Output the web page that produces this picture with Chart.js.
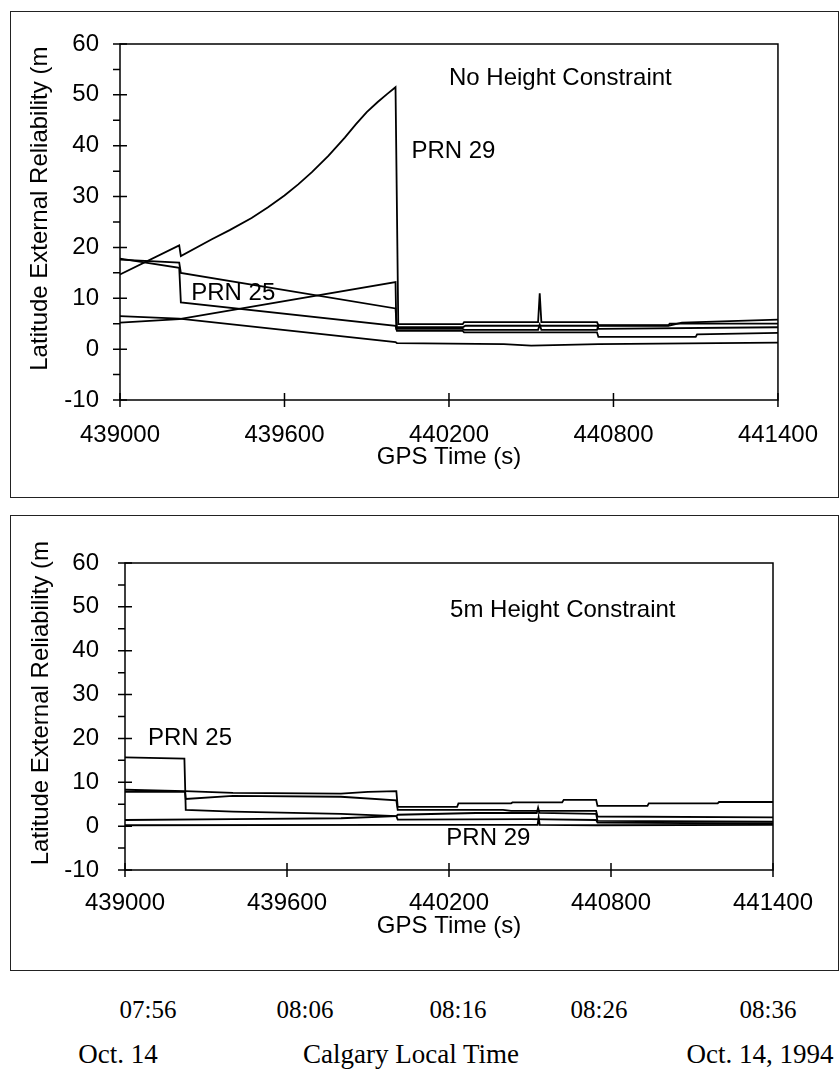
<!DOCTYPE html>
<html>
<head>
<meta charset="utf-8">
<script src="https://cdn.jsdelivr.net/npm/chart.js@4/dist/chart.umd.min.js"></script>
<style>
  body { margin: 0; background: #fff; width: 839px; height: 1078px; position: relative; overflow: hidden; }
  .box { position: absolute; border: 1px solid #222; box-sizing: border-box; }
  canvas { position: absolute; left: 0; }
  .serif { position: absolute; font-family: "Times New Roman", "Liberation Serif", serif; color: #000; white-space: nowrap; transform: translateX(-50%); }
</style>
</head>
<body>
<div class="box" style="left:10px; top:11px; width:829px; height:487px;"></div>
<div class="box" style="left:10px; top:515px; width:829px; height:456px;"></div>
<canvas id="topChart" width="839" height="497" style="top:0"></canvas>
<canvas id="bottomChart" width="839" height="455" style="top:515px"></canvas>

<div class="serif" style="left:148px; top:996px; font-size:25px;">07:56</div>
<div class="serif" style="left:305px; top:996px; font-size:25px;">08:06</div>
<div class="serif" style="left:458px; top:996px; font-size:25px;">08:16</div>
<div class="serif" style="left:599px; top:996px; font-size:25px;">08:26</div>
<div class="serif" style="left:768px; top:996px; font-size:25px;">08:36</div>
<div class="serif" style="left:118px; top:1039px; font-size:27px;">Oct. 14</div>
<div class="serif" style="left:411px; top:1039px; font-size:27px;">Calgary Local Time</div>
<div class="serif" style="left:760px; top:1039px; font-size:27px;">Oct. 14, 1994</div>

<script>
// axis ticks
const yMajor = [-10, 0, 10, 20, 30, 40, 50, 60];
const yMinor = [-5, 5, 15, 25, 35, 45, 55];
const xMajor = [439000, 439600, 440200, 440800, 441400];

// top panel: no height constraint  [GPS time (s), reliability (m)]
const topPrn29 = [[439000, 14.7], [439216, 20.4], [439222, 18.3], [439335, 21.6], [439400, 23.4], [439480, 25.8],
  [439540, 27.9], [439600, 30.2], [439650, 32.4], [439700, 34.8], [439760, 38.0], [439820, 41.6], [439860, 44.2],
  [439900, 46.6], [439940, 48.6], [439975, 50.2], [440005, 51.5], [440015, 4.9], [440250, 4.9],
  [440255, 5.3], [440525, 5.3], [440531, 11.0], [440537, 5.3], [440740, 5.3], [440745, 4.7], [441000, 4.7],
  [441005, 5.0], [441400, 5.0]];
const topUpper = [[439000, 17.6], [439216, 17.0], [439222, 15.0], [440005, 8.0], [440010, 4.3], [440250, 4.3],
  [440260, 4.6], [440740, 4.6], [440745, 4.0], [441400, 4.3]];
const topPrn25 = [[439000, 17.8], [439216, 16.0], [439222, 9.2], [440005, 4.6], [440010, 3.6], [440250, 3.6],
  [440255, 3.3], [440740, 3.3], [440745, 2.4], [441100, 2.4], [441105, 2.9], [441400, 3.2]];
const topRising = [[439000, 5.2], [439216, 5.9], [440005, 13.2], [440008, 4.0], [440250, 4.0], [440255, 3.8],
  [440525, 3.8], [440531, 4.8], [440537, 3.8], [440740, 3.8], [440745, 4.6], [441000, 4.6], [441050, 5.2],
  [441400, 5.8]];
const topLow = [[439000, 6.5], [439216, 6.0], [440005, 1.4], [440010, 1.2], [440400, 1.0], [440500, 0.7],
  [440745, 1.0], [441400, 1.3]];

// bottom panel: 5m height constraint
const botPrn25 = [[439000, 15.7], [439220, 15.4], [439225, 3.7], [439400, 3.3], [439800, 2.8], [440005, 2.3],
  [440010, 1.5], [440500, 1.6], [440745, 1.4], [440750, 0.8], [441400, 0.6]];
const botUpper = [[439000, 8.3], [439222, 8.0], [439400, 7.6], [439800, 7.4], [439900, 7.8], [440005, 8.0],
  [440010, 4.4], [440230, 4.4], [440235, 5.2], [440430, 5.2], [440435, 5.4], [440619, 5.4], [440625, 6.0],
  [440745, 6.0], [440750, 4.6], [440935, 4.6], [440940, 5.2], [441195, 5.2], [441200, 5.5], [441400, 5.5]];
const botMid = [[439000, 7.8], [439222, 7.8], [439225, 6.2], [439400, 6.9], [439800, 6.7], [440005, 5.9],
  [440010, 3.7], [440400, 3.7], [440430, 3.5], [440745, 3.5], [440750, 2.2], [441400, 2.0]];
const botLow = [[439000, 1.4], [439400, 1.6], [439800, 1.8], [440005, 2.3], [440010, 2.6], [440300, 3.0],
  [440525, 3.0], [440530, 4.2], [440535, 3.0], [440745, 2.8], [440750, 1.2], [441400, 1.0]];
const botPrn29 = [[439000, 0.2], [440005, 0.3], [440528, 0.3], [440532, 2.0], [440536, 0.3], [440745, 0.2],
  [441400, 0.3]];

// text notes [GPS time, value, text] (left edge, vertical middle)
const topNotes = [[440200, 53.3, 'No Height Constraint'], [440063, 38.8, 'PRN 29'], [439260, 11.0, 'PRN 25']];
const botNotes = [[440204, 49.3, '5m Height Constraint'], [439085, 20.1, 'PRN 25'], [440190, -2.8, 'PRN 29']];

const sansFont = 'Arial, "Liberation Sans", sans-serif';

const frameTicks = {
  id: 'frameTicks',
  afterDraw(chart, args, opts) {
    const { ctx, chartArea: a, scales: { x, y } } = chart;
    ctx.save();
    ctx.strokeStyle = '#000';
    ctx.lineWidth = 1.5;
    ctx.strokeRect(a.left, a.top, a.right - a.left, a.bottom - a.top);
    ctx.beginPath();
    yMajor.forEach(v => {
      const p = y.getPixelForValue(v);
      ctx.moveTo(a.left - 7, p);
      ctx.lineTo(a.left + 7, p);
    });
    yMinor.forEach(v => {
      const p = y.getPixelForValue(v);
      ctx.moveTo(a.left - 7, p);
      ctx.lineTo(a.left, p);
    });
    xMajor.forEach(v => {
      const p = x.getPixelForValue(v);
      ctx.moveTo(p, a.bottom - 7);
      ctx.lineTo(p, a.bottom + 7);
    });
    ctx.stroke();
    ctx.fillStyle = '#000';
    ctx.font = '24px ' + sansFont;
    ctx.textAlign = 'left';
    ctx.textBaseline = 'middle';
    opts.notes.forEach(n => ctx.fillText(n[2], x.getPixelForValue(n[0]), y.getPixelForValue(n[1])));
    ctx.restore();
  }
};

function makePanel(canvasId, series, notes, dims) {
  return new Chart(document.getElementById(canvasId), {
    type: 'scatter',
    data: {
      datasets: series.map(s => ({
        data: s.map(p => ({ x: p[0], y: p[1] })),
        showLine: true,
        borderColor: '#000',
        borderWidth: 1.8,
        pointRadius: 0,
        tension: 0
      }))
    },
    options: {
      responsive: false,
      animation: false,
      layout: { padding: { top: dims.top, right: dims.right, left: 0, bottom: 0 } },
      plugins: {
        legend: { display: false },
        tooltip: { enabled: false },
        frameTicks: { notes: notes }
      },
      scales: {
        x: {
          type: 'linear',
          min: 439000,
          max: 441400,
          grid: { display: false, drawTicks: false },
          border: { display: false },
          afterFit: s => { s.height = dims.xHeight; },
          ticks: {
            stepSize: 600,
            padding: dims.xPad,
            color: '#000',
            font: { family: sansFont, size: 24 },
            maxRotation: 0,
            callback: v => String(v)
          },
          title: {
            display: true,
            text: 'GPS Time (s)',
            color: '#000',
            font: { family: sansFont, size: 24 },
            padding: { top: 0, bottom: dims.xTitlePad }
          }
        },
        y: {
          min: -10,
          max: 60,
          grid: { display: false, drawTicks: false },
          border: { display: false },
          afterFit: s => { s.width = dims.yWidth; },
          ticks: {
            stepSize: 10,
            padding: dims.yPad,
            color: '#000',
            font: { family: sansFont, size: 24 }
          },
          title: {
            display: true,
            // leading spaces push the visible label toward the top, as in the original
            text: '    Latitude External Reliability (m',
            color: '#000',
            font: { family: sansFont, size: 24 },
            padding: { top: dims.yTitlePad, bottom: 0 }
          }
        }
      }
    },
    plugins: [frameTicks]
  });
}

makePanel('topChart', [topPrn29, topUpper, topPrn25, topRising, topLow], topNotes,
  { top: 44, right: 53, xHeight: 97, yWidth: 120, xPad: 21, yPad: 21, xTitlePad: 25, yTitlePad: 26 });
makePanel('bottomChart', [botPrn25, botUpper, botMid, botLow, botPrn29], botNotes,
  { top: 48, right: 66, xHeight: 100, yWidth: 125, xPad: 19, yPad: 26, xTitlePad: 29, yTitlePad: 27 });
</script>
</body>
</html>
